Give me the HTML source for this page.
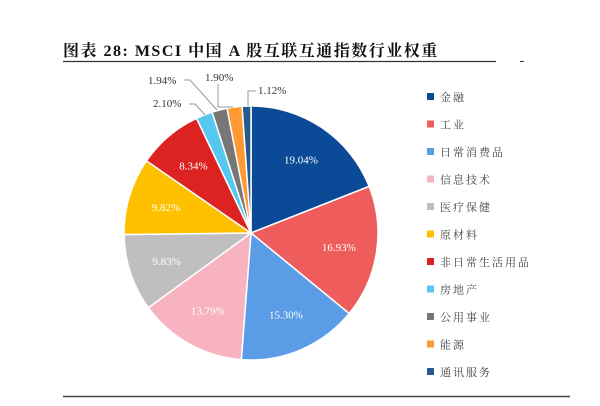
<!DOCTYPE html>
<html><head><meta charset="utf-8"><style>
body{margin:0;background:#fff;width:600px;height:401px;overflow:hidden;font-family:"Liberation Serif","Noto Serif CJK SC",serif}
</style></head><body>
<svg id="s" width="600" height="401" xmlns="http://www.w3.org/2000/svg">
<text x="63" y="56" font-family="'Liberation Serif','Noto Serif CJK SC',serif" font-weight="bold" font-size="16" letter-spacing="1.5" fill="#111">图表 28: MSCI 中国 A 股互联互通指数行业权重</text>
<line x1="63" y1="61.5" x2="496" y2="61.5" stroke="#333" stroke-width="1.2"/>
<line x1="520" y1="61.5" x2="524" y2="61.5" stroke="#333" stroke-width="1"/>
<line x1="63" y1="396.5" x2="570" y2="396.5" stroke="#444" stroke-width="1.5"/>
<g id="pie"></g>
<g id="leg" font-family="'Liberation Serif','Noto Serif CJK SC',serif" font-size="11" fill="#444"></g>
<g font-size="11" fill="#333" font-family="'Liberation Serif',serif">
<text x="148" y="84">1.94%</text>
<text x="205" y="81">1.90%</text>
<text x="258" y="94">1.12%</text>
<text x="153" y="107">2.10%</text>
</g>
<g stroke="#999" stroke-width="1" fill="none">
<polyline points="184,80 190,80 217,110"/>
<polyline points="218,84 218,107 233,107"/>
<polyline points="256,91 248,91 248,106"/>
<polyline points="189,104 195,104 205,115"/>
</g>
</svg>
<script>
var d=[["金融",19.04,"#0b4a96"],["工业",16.93,"#ee5c5c"],["日常消费品",15.30,"#5b9ce6"],["信息技术",13.79,"#f8b3c0"],["医疗保健",9.83,"#bfbfbf"],["原材料",9.82,"#ffc000"],["非日常生活用品",8.34,"#dd2222"],["房地产",2.10,"#56c8f0"],["公用事业",1.94,"#777777"],["能源",1.90,"#ff9933"],["通讯服务",1.12,"#255a8c"]];
var cx=251,cy=233,r=127,tot=0;d.forEach(function(e){tot+=e[1]});
var a=0,p=document.getElementById("pie"),g=document.getElementById("leg"),h="";
d.forEach(function(e,i){var a2=a+e[1]/tot*2*Math.PI;
var x1=cx+r*Math.sin(a),y1=cy-r*Math.cos(a),x2=cx+r*Math.sin(a2),y2=cy-r*Math.cos(a2);
h+='<path d="M'+cx+','+cy+'L'+x1+','+y1+'A'+r+','+r+' 0 '+((a2-a)>Math.PI?1:0)+' 1 '+x2+','+y2+'Z" fill="'+e[2]+'" stroke="#fff" stroke-width="1.5"/>';
if(e[1]>5){var m=(a+a2)/2,lx=cx+0.7*r*Math.sin(m),ly=cy-0.7*r*Math.cos(m);
h+='<text x="'+lx+'" y="'+(ly+4)+'" text-anchor="middle" font-size="11" fill="#fff" font-family="Liberation Serif,serif">'+e[1].toFixed(2)+'%</text>';}
a=a2;
var yy=97+i*27.5;
g.innerHTML+='<rect x="427" y="'+(yy-4)+'" width="7" height="7" fill="'+e[2]+'"/><text x="440" y="'+(yy+4)+'" letter-spacing="2">'+e[0]+'</text>';
});
p.innerHTML=h;
</script>
</body></html>
